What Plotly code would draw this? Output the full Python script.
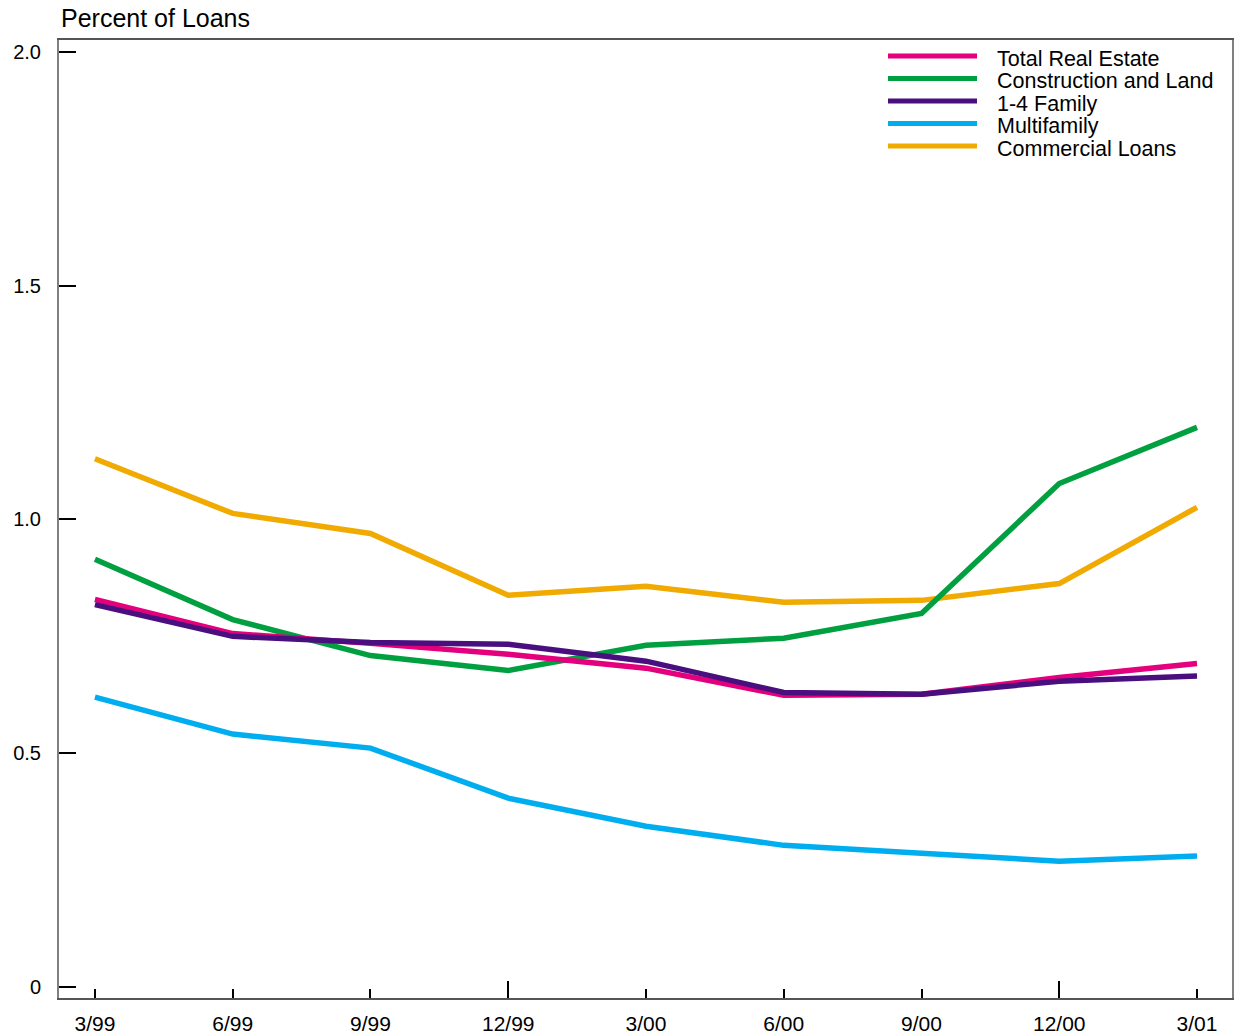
import plotly.graph_objects as go

quarters = ["3/99", "6/99", "9/99", "12/99", "3/00", "6/00", "9/00", "12/00", "3/01"]
x_idx = list(range(len(quarters)))

total_real_estate = [0.829, 0.756, 0.735, 0.712, 0.682, 0.624, 0.626, 0.662, 0.692]
construction_land = [0.915, 0.786, 0.709, 0.677, 0.731, 0.746, 0.799, 1.077, 1.197]
one_to_four_family = [0.818, 0.750, 0.737, 0.733, 0.697, 0.630, 0.626, 0.654, 0.665]
multifamily = [0.620, 0.541, 0.511, 0.404, 0.344, 0.303, 0.286, 0.269, 0.280]
commercial_loans = [1.130, 1.013, 0.970, 0.838, 0.857, 0.823, 0.827, 0.863, 1.026]

y_tickvals = [0, 0.5, 1.0, 1.5, 2.0]
y_ticktext = ["0", "0.5", "1.0", "1.5", "2.0"]
year_end_ticks = [3, 7]

series = [
    ("Total Real Estate", total_real_estate, "#E4007C"),
    ("Construction and Land", construction_land, "#00A040"),
    ("1-4 Family", one_to_four_family, "#4A0F7E"),
    ("Multifamily", multifamily, "#00AEEF"),
    ("Commercial Loans", commercial_loans, "#F0AA00"),
]

FONT = "Liberation Sans, Arial, Helvetica, sans-serif"

ML, MR, MT, MB = 59, 5, 40, 38
W, H = 1237, 1036

fig = go.Figure()
order = [4, 3, 1, 0, 2]
for i in order:
    name, vals, col = series[i]
    fig.add_trace(go.Scatter(x=x_idx, y=vals, mode="lines", name=name,
                             line=dict(color=col, width=5.5), showlegend=False))

fig.add_trace(go.Scatter(x=[x_idx[0]], y=[None], xaxis="x2", showlegend=False,
                         hoverinfo="skip", mode="lines"))

xr = [-0.261, 8.254]
yr = [-0.0235, 2.0256]

fig.update_layout(
    width=W, height=H,
    margin=dict(l=ML, r=MR, t=MT, b=MB),
    paper_bgcolor="white", plot_bgcolor="white",
    font=dict(family=FONT, size=20, color="black"),
    xaxis=dict(range=xr, tickvals=x_idx, ticktext=quarters, ticks="inside",
               ticklen=9, tickwidth=1.5, tickcolor="black", automargin=False,
               showgrid=False, zeroline=False, showline=True, linecolor="#555555",
               linewidth=1.5, mirror=True, ticklabelstandoff=6,
               tickfont=dict(size=21)),
    xaxis2=dict(range=xr, overlaying="x", anchor="y", side="bottom",
                tickvals=year_end_ticks, ticks="inside", ticklen=17, tickwidth=1.5,
                tickcolor="black", showticklabels=False, showgrid=False,
                zeroline=False, showline=False, automargin=False),
    yaxis=dict(range=yr, tickvals=y_tickvals, ticktext=y_ticktext, ticks="inside",
               ticklen=17, tickwidth=1.5, tickcolor="black", automargin=False,
               showgrid=False, zeroline=False, showline=True, linecolor="#808080",
               linewidth=2, mirror=True, ticklabelstandoff=12,
               tickfont=dict(size=20)),
)

fig.add_annotation(text="Percent of Loans", xref="paper", yref="paper", x=0, y=1,
                   xanchor="left", yanchor="middle", yshift=22, xshift=0,
                   showarrow=False, font=dict(size=25, family=FONT))

# reference-pixel positions (relative to plot box in the reference: x 59..1232, y 40..998)
def px_to_paper_x(px):
    return (px - 59) / (1232 - 59)
def px_to_paper_y(py):
    return 1 - (py - 40) / (998 - 40)

legend_rows = [56.0, 78.5, 101.0, 123.5, 146.0]
for (name, vals, col), ry in zip(series, legend_rows):
    fig.add_shape(type="line", xref="paper", yref="paper",
                  x0=px_to_paper_x(888), x1=px_to_paper_x(977),
                  y0=px_to_paper_y(ry), y1=px_to_paper_y(ry),
                  line=dict(color=col, width=5))
    fig.add_annotation(text=name, xref="paper", yref="paper",
                       x=px_to_paper_x(995), y=px_to_paper_y(ry + 3),
                       xanchor="left", yanchor="middle", showarrow=False,
                       font=dict(size=21.5, family=FONT))

fig.write_html("out.html", config={"displayModeBar": False},
               post_script="document.body.style.margin='0';document.body.style.overflow='hidden';")
